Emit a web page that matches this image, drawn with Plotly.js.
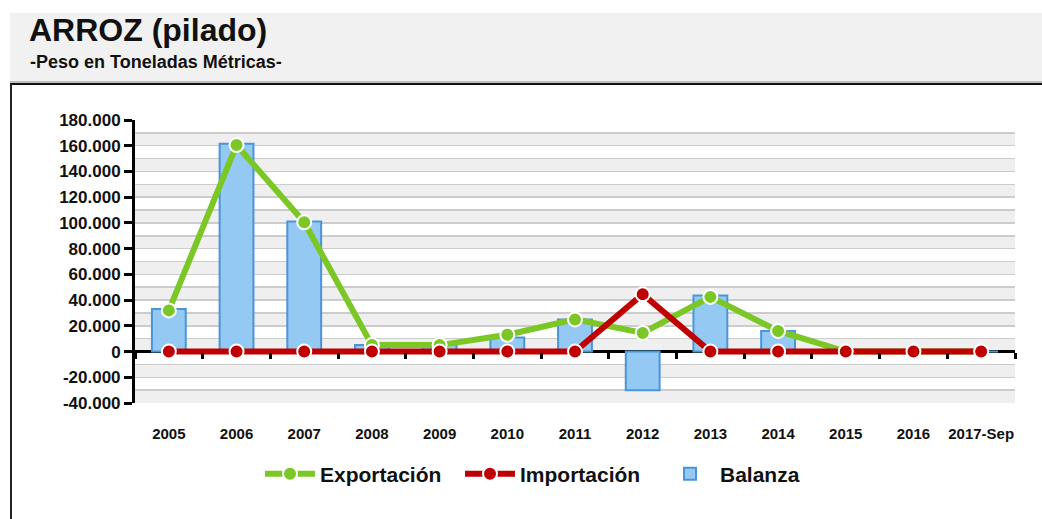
<!DOCTYPE html>
<html>
<head>
<meta charset="utf-8">
<script src="https://cdn.plot.ly/plotly-3.0.1.min.js"></script>
<style>html,body{margin:0;padding:0;background:#fff;}#chart{width:1042px;height:519px;}</style>
</head>
<body>
<div id="chart"></div>
<script>
// ---- data ----
var years = ["2005","2006","2007","2008","2009","2010","2011","2012","2013","2014","2015","2016","2017-Sep"];
var exportacion = [32000, 160500, 100500, 5000, 5000, 13000, 25000, 14500, 42500, 16000, 0, 0, 0];
var importacion = [0, 0, 0, 0, 0, 0, 0, 44500, 0, 0, 0, 0, 0];
var balanza = [33000, 161500, 101000, 5000, 5000, 11000, 25000, -30000, 43500, 16000, 0, 0, 0];
var yMin = -40000, yMax = 180000, yStep = 20000, bandStep = 10000;

// ---- layout helpers ----
var W = 1042, H = 519, L = 135, R = 1015, T = 120, B = 403;
function px(x){ return (x - L) / (R - L); }
function py(y){ return (B - y) / (B - T); }
var FONT = "Liberation Sans, Arial, Helvetica, sans-serif";

var tickVals = [], tickText = [];
for (var v = yMin; v <= yMax; v += yStep) {
  tickVals.push(v);
  var s = Math.abs(v).toString().replace(/\B(?=(\d{3})+(?!\d))/g, ".");
  tickText.push((v < 0 ? "-" : "") + s);
}

var shapes = [];
// alternating bands
for (var b = yMin; b < yMax; b += bandStep) {
  var idx = Math.round((yMax - b - bandStep) / bandStep);
  if (idx % 2 === 1) {
    shapes.push({type:"rect", xref:"paper", yref:"y", x0:0, x1:1, y0:b, y1:b+bandStep,
      fillcolor:"#efefef", line:{width:0}, layer:"below"});
  }
}
// header background and frame
shapes.push({type:"rect", xref:"paper", yref:"paper", x0:px(10), x1:px(W), y0:py(82), y1:py(13),
  fillcolor:"#f1f1f1", line:{width:0}, layer:"below"});
shapes.push({type:"line", xref:"paper", yref:"paper", x0:px(10), x1:px(W), y0:py(82), y1:py(82),
  line:{color:"#888", width:1}, layer:"above"});
shapes.push({type:"line", xref:"paper", yref:"paper", x0:px(10), x1:px(W), y0:py(84), y1:py(84),
  line:{color:"#111", width:2}, layer:"above"});
shapes.push({type:"line", xref:"paper", yref:"paper", x0:px(11), x1:px(11), y0:py(83), y1:py(H),
  line:{color:"#222", width:2}, layer:"above"});

var traces = [
  {type:"bar", name:"Balanza", x:years, y:balanza, width:0.5,
   marker:{color:"#94c9f3", line:{color:"#4a95da", width:2}}, legendrank:3},
  {type:"scatter", mode:"lines+markers", name:"Exportación", x:years, y:exportacion,
   line:{color:"#7ac725", width:6}, marker:{color:"#7ac725", size:14, line:{color:"#fff", width:2}}, legendrank:1},
  {type:"scatter", mode:"lines+markers", name:"Importación", x:years, y:importacion,
   line:{color:"#c00000", width:6}, marker:{color:"#c00000", size:14, line:{color:"#fff", width:2}}, legendrank:2},
  {type:"scatter", mode:"markers", x:years, y:years.map(function(){return null;}), xaxis:"x2",
   showlegend:false, hoverinfo:"skip", marker:{opacity:0}}
];

var layout = {
  width:W, height:H,
  margin:{l:L, r:W-R, t:T, b:H-B, pad:0},
  paper_bgcolor:"#fff", plot_bgcolor:"#fff",
  font:{family:FONT, color:"#111"},
  showlegend:true,
  barmode:"overlay",
  xaxis:{type:"category", range:[-0.5, years.length - 0.5], showgrid:false, showline:false, zeroline:false,
    ticks:"outside", ticklen:17, tickcolor:"rgba(0,0,0,0)",
    tickfont:{family:FONT, size:15, weight:"bold", color:"#111"}, fixedrange:true},
  xaxis2:{type:"category", overlaying:"x", matches:"x", anchor:"free", position:py(352), side:"bottom",
    showgrid:false, showline:false, zeroline:false, showticklabels:false,
    ticks:"outside", tickson:"boundaries", ticklen:6, tickwidth:3, tickcolor:"#000"},
  yaxis:{range:[yMin, yMax], tickvals:tickVals, ticktext:tickText,
    showline:true, linecolor:"#000", linewidth:3,
    ticks:"outside", ticklen:8, tickwidth:3, tickcolor:"#000",
    showgrid:true, gridcolor:"#cccccc", gridwidth:1.5,
    minor:{dtick:bandStep, tick0:0, showgrid:true, gridcolor:"#cccccc", gridwidth:1.5, ticks:""},
    zeroline:true, zerolinecolor:"#000", zerolinewidth:3,
    tickfont:{family:FONT, size:17, weight:"bold", color:"#111"}},
  legend:{orientation:"h", x:px(260), xanchor:"left", y:py(474), yanchor:"middle",
    font:{family:FONT, size:21, weight:"bold", color:"#111"}, itemwidth:50, entrywidth:135,
    bgcolor:"rgba(0,0,0,0)"},
  shapes:shapes,
  annotations:[
    {text:"ARROZ (pilado)", xref:"paper", yref:"paper", x:px(27), y:py(30), xanchor:"left", yanchor:"middle",
     showarrow:false, font:{family:FONT, size:32, weight:"bold", color:"#111"}},
    {text:"-Peso en Toneladas Métricas-", xref:"paper", yref:"paper", x:px(28), y:py(62), xanchor:"left", yanchor:"middle",
     showarrow:false, font:{family:FONT, size:18, weight:"bold", color:"#111"}}
  ]
};

Plotly.newPlot("chart", traces, layout, {displayModeBar:false, staticPlot:true});
</script>
</body>
</html>
